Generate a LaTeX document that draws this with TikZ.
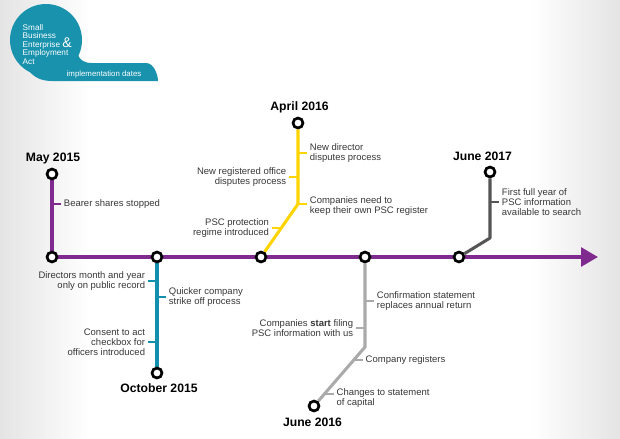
\documentclass[tikz,border=0pt]{standalone}
\usepackage{fontspec}
\setmainfont{Liberation Sans}
\usetikzlibrary{arrows.meta,positioning,calc}

\definecolor{chpurple}{RGB}{126,42,143}
\definecolor{chteal}{RGB}{24,146,173}
\definecolor{chblue}{RGB}{18,143,172}
\definecolor{chyellow}{RGB}{255,212,0}
\definecolor{chgrey}{RGB}{170,170,170}
\definecolor{chdark}{RGB}{85,85,85}
\definecolor{chtext}{RGB}{55,55,55}
\definecolor{vigedge}{RGB}{228,228,228}

\pgfdeclarelayer{background}
\pgfsetlayers{background,main}

\begin{document}
\begin{tikzpicture}[x=0.03cm,y=-0.03cm,
                main node/.style={circle,draw=black,fill=white,line width=2.3pt,minimum size=8.5pt,inner sep=0pt},
                date label/.style={font=\fontsize{10.4}{12}\selectfont\bfseries,anchor=base,inner sep=0pt},
                event/.style={font=\fontsize{8.1}{8.5}\selectfont,text=chtext,inner sep=0pt},
                event right/.style={event,align=left,right=10pt of #1},
                event left/.style={event,align=right,left=10pt of #1},
                main line/.style={draw=chpurple,line width=3pt},
                branch/.style={line width=2.6pt,line join=round},
                tick/.style={line width=1.7pt,shorten >=2.5pt}]
                \useasboundingbox (0,0) rectangle (620,438);

                % header
                \fill[chteal] (46,40) circle (36);
                \fill[chteal] (30,72) .. controls (36,79) and (44,81) .. (52,81) -- (158,81)
                  .. controls (158,75) and (154,63) .. (146,63) -- (92,63)
                  .. controls (84,63) and (80,60) .. (78,55) -- (50,50) -- cycle;
                \node[anchor=north west,align=left,inner sep=0pt,text=white,font=\fontsize{7}{7.25}\selectfont]
                  (title) at (22.5,24) {Small\\Business\\Enterprise \smash{\fontsize{12}{12}\selectfont\&}\\Employment\\Act};
                \node[anchor=west,inner sep=0pt,text=white,font=\fontsize{6.7}{8}\selectfont]
                  (subtitle) at (66.5,74) {implementation dates};

                % stops on the main line and branch ends
                \node[main node] (m1) at (52,257) {};
                \node[main node] (m2) at (157,257) {};
                \node[main node] (m3) at (261,257) {};
                \node[main node] (m4) at (365,257) {};
                \node[main node] (m5) at (459,257) {};
                \node[main node] (e1) at (52,174) {};
                \node[main node] (e2) at (157,373) {};
                \node[main node] (e3) at (298,123) {};
                \node[main node] (e4) at (314,406) {};
                \node[main node] (e5) at (490,172) {};
                \coordinate (tip) at (598,257);
                \coordinate (b3) at (298,204);
                \coordinate (b4) at (365,347);
                \coordinate (b5) at (490,238);

                \node[date label] (l1) at (53,161.5) {May 2015};
                \node[date label] (l2) at (159,392.5) {October 2015};
                \node[date label] (l3) at (299.5,110.5) {April 2016};
                \node[date label] (l4) at (312.5,426.5) {June 2016};
                \node[date label] (l5) at (482.5,160) {June 2017};

                % tick points
                \coordinate (t1) at (52,204);
                \coordinate (t2) at (157,281);
                \coordinate (t3) at (157,297);
                \coordinate (t4) at (157,342);
                \coordinate (t5) at (298,153);
                \coordinate (t6) at (298,177);
                \coordinate (t8) at ($(m3)!0.54!(b3)$);
                \coordinate (t9) at (365,301);
                \coordinate (t10) at (365,328);
                \coordinate (t11) at ($(b4)!0.22!(e4)$);
                \coordinate (t12) at ($(b4)!0.79!(e4)$);
                \coordinate (t13) at (490,202);

                \node[event right=t1] (n1) {Bearer shares stopped};
                \node[event left=t2] (n2) {Directors month and year\\only on public record};
                \node[event right=t3] (n3) {Quicker company\\strike off process};
                \node[event left=t4] (n4) {Consent to act\\checkbox for\\officers introduced};
                \node[event right=t5] (n5) {New director\\disputes process};
                \node[event left=t6] (n6) {New registered office\\disputes process};
                \node[event right=b3,yshift=-2pt] (n7) {Companies need to\\keep their own PSC register};
                \node[event left=t8] (n8) {PSC protection\\regime introduced};
                \node[event right=t9] (n9) {Confirmation statement\\replaces annual return};
                \node[event left=t10] (n10) {Companies \textbf{start} filing\\PSC information with us};
                \node[event right=t11] (n11) {Company registers};
                \node[event right=t12,yshift=-4pt] (n12) {Changes to statement\\of capital};
                \node[event right=t13] (n13) {First full year of\\PSC information\\available to search};

                \begin{pgfonlayer}{background}
                \shade[left color=vigedge,right color=white] (0,0) rectangle (90,438);
                \shade[left color=white,right color=vigedge] (530,0) rectangle (620,438);

                \path[main line]
                (m1) edge (m2)
                (m2) edge (m3)
                (m3) edge (m4)
                (m4) edge (m5);
                \draw[main line,-{Triangle[length=14.5pt,width=16pt]}] (m5) -- (tip);

                \draw[branch,draw=chpurple] (m1) -- (e1);
                \draw[branch,draw=chblue] (m2) -- (e2);
                \draw[branch,draw=chyellow] (m3) -- (b3) -- (e3);
                \draw[branch,draw=chgrey] (m4) -- (b4) -- (e4);
                \draw[branch,draw=chdark] (m5) -- (b5) -- (e5);

                \draw[tick,chpurple] (t1) -- (t1 -| n1.west);
                \draw[tick,chblue] (t2) -- (t2 -| n2.east);
                \draw[tick,chblue] (t3) -- (t3 -| n3.west);
                \draw[tick,chblue] (t4) -- (t4 -| n4.east);
                \draw[tick,chyellow] (t5) -- (t5 -| n5.west);
                \draw[tick,chyellow] (t6) -- (t6 -| n6.east);
                \draw[tick,chyellow] (b3) -- (b3 -| n7.west);
                \draw[tick,chyellow] (t8) -- (t8 -| n8.east);
                \draw[tick,chgrey] (t9) -- (t9 -| n9.west);
                \draw[tick,chgrey] (t10) -- (t10 -| n10.east);
                \draw[tick,chgrey] (t11) -- (t11 -| n11.west);
                \draw[tick,chgrey] (t12) -- (t12 -| n12.west);
                \draw[tick,chdark] (t13) -- (t13 -| n13.west);
                \end{pgfonlayer}
\end{tikzpicture}
\end{document}
